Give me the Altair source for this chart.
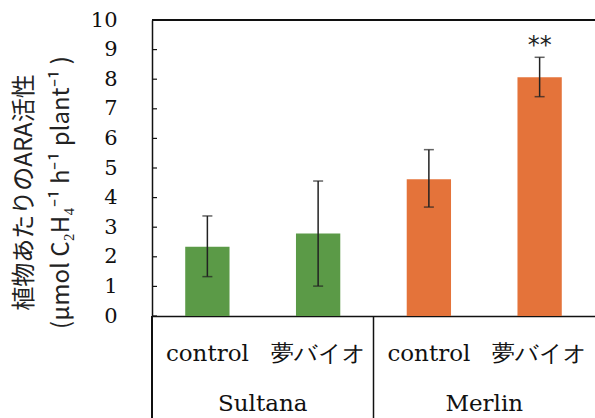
import altair as alt
import pandas as pd

groups = ["Sultana", "Sultana", "Merlin", "Merlin"]
conds = ["control", "夢バイオ", "control", "夢バイオ"]
means = [2.34, 2.79, 4.62, 8.07]
err_lo = [1.33, 1.01, 3.68, 7.41]
err_hi = [3.38, 4.56, 5.62, 8.74]
colors = ["#5b9a47", "#5b9a47", "#e4733a", "#e4733a"]
signif = ["", "", "", "**"]
y_ticks = list(range(0, 11))
group_names = ["Sultana", "Merlin"]

keys = [f"{g}|{c}" for g, c in zip(groups, conds)]
df = pd.DataFrame({"key": keys, "group": groups, "cond": conds, "mean": means,
                   "lo": err_lo, "hi": err_hi, "color": colors, "sig": signif})
gdf = pd.DataFrame({"group": group_names})
tdf = pd.DataFrame({"v": y_ticks})

W, H = 443, 296
SERIF = "DejaVu Serif"

xs = alt.Scale(domain=keys, paddingInner=0, paddingOuter=0)
ys = alt.Scale(domain=[0, 10], nice=False, zero=True)

x_axis = alt.Axis(labelExpr="split(datum.label, '|')[1]", ticks=False, title=None,
                  domainColor="#111", domainWidth=1.5, labelFont=SERIF,
                  labelFontSize=23, labelColor="#111", labelPadding=37,
                  labelBaseline="middle", labelAngle=0)
y_axis = alt.Axis(values=y_ticks, ticks=False, grid=False, domainColor="#111",
                  domainWidth=1.5, labelFont=SERIF, labelFontSize=21,
                  labelColor="#111", labelPadding=35, labelOverlap=False,
                  title=["植物あたりのARA活性", "(μmol C₂H₄⁻¹ h⁻¹ plant⁻¹ )"],
                  titleFont="Noto Sans CJK JP", titleFontSize=24,
                  titleFontWeight="normal", titleColor="#222",
                  titleAngle=270, titleAlign="center", titleBaseline="top",
                  titleX=-140, titleY=172, titleLineHeight=37)

xk = alt.X("key:N", scale=xs, sort=keys, axis=x_axis)

def yq(f):
    return alt.Y(f, scale=ys, axis=y_axis)

bars = alt.Chart(df).mark_bar(width=alt.RelativeBandSize(0.4)).encode(
    x=xk, y=yq("mean:Q"), color=alt.Color("color:N", scale=None))

rules = alt.Chart(df).mark_rule(color="#222", strokeWidth=1.5).encode(
    x=xk, y=yq("lo:Q"), y2="hi:Q")
cap_lo = alt.Chart(df).mark_tick(color="#222", thickness=1.5, size=10, orient="horizontal").encode(
    x=xk, y=yq("lo:Q"))
cap_hi = alt.Chart(df).mark_tick(color="#222", thickness=1.5, size=10, orient="horizontal").encode(
    x=xk, y=yq("hi:Q"))
sig = alt.Chart(df).mark_text(font="DejaVu Sans", fontSize=24, color="#222",
                              baseline="bottom", dy=1).encode(
    x=xk, y=yq("hi:Q"), text="sig:N")

ticks = alt.Chart(tdf).mark_rule(color="#111", strokeWidth=1.2).encode(
    y=yq("v:Q"), x=alt.value(0), x2=alt.value(5))
top_line = alt.Chart(tdf).mark_rule(color="#111", strokeWidth=1.5).encode(
    y=alt.value(0), x=alt.value(0), x2=alt.value(W))
left_ext = alt.Chart(tdf).mark_rule(color="#111", strokeWidth=1.5).encode(
    x=alt.value(0), y=alt.value(H), y2=alt.value(H + 110))

gx = alt.Scale(domain=group_names, paddingInner=0, paddingOuter=0)
glabels = alt.Chart(gdf).mark_text(font=SERIF, fontSize=23, color="#111",
                                   baseline="middle").encode(
    x=alt.X("group:N", scale=gx, sort=group_names, axis=None),
    y=alt.value(H + 88), text="group:N")
gsep = alt.Chart(gdf).transform_filter(alt.datum.group == "Merlin").mark_rule(
    color="#111", strokeWidth=1.5).encode(
    x=alt.X("group:N", scale=gx, sort=group_names, axis=None, bandPosition=0),
    y=alt.value(H), y2=alt.value(H + 110))

main = alt.layer(bars, rules, cap_lo, cap_hi, sig, ticks, top_line, left_ext)
chart = alt.layer(main, glabels, gsep).resolve_scale(x="independent").properties(
    width=W, height=H,
    autosize=alt.AutoSizeParams(type="none"),
    padding={"left": 152, "top": 20, "right": 0, "bottom": 102},
    background="white",
).configure_view(stroke=None)

chart.save("out.html", embed_options={"renderer": "svg", "actions": False})
